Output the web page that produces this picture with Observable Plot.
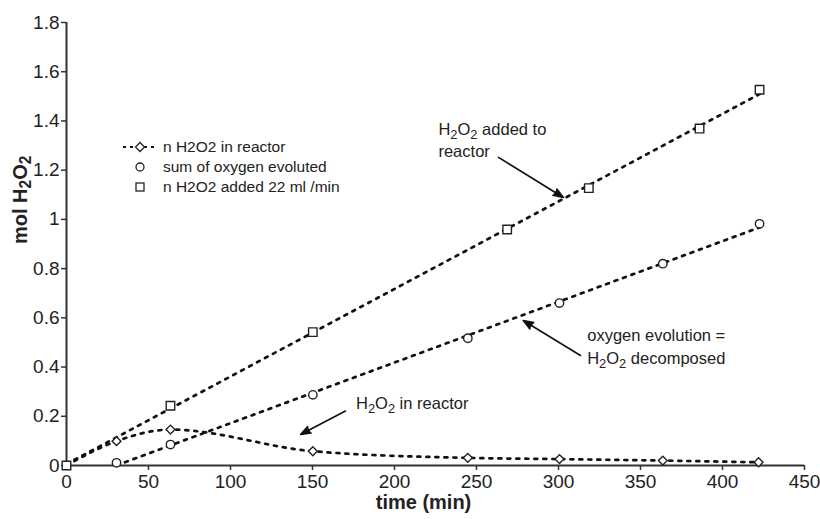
<!DOCTYPE html>
<html><head><meta charset="utf-8">
<script src="https://cdn.jsdelivr.net/npm/d3@7"></script>
<script src="https://cdn.jsdelivr.net/npm/@observablehq/plot@0.6"></script>
<style>
body{margin:0;background:#fff;font-family:"Liberation Sans",Arial,sans-serif;}
#wrap{position:relative;width:820px;height:519px;}
#legend{position:absolute;left:120px;top:137px;font-size:15.5px;color:#222;}
.row{display:flex;align-items:center;height:20px;}
.row svg{width:40px;height:20px;flex:none;}
.row span{margin-left:3px;white-space:nowrap;}
g.arrowmark path{fill:#111 !important;}
</style></head><body><div id="wrap"><div id="legend"></div></div>
<script>
// ---- data ----
const diamondTime = [0, 30.5, 63.4, 150.2, 244.7, 300.6, 363.6, 422];
const diamondMol  = [0, 0.099, 0.146, 0.058, 0.031, 0.026, 0.020, 0.013];
const circleTime  = [30.5, 63.4, 150.2, 244.7, 300.6, 363.6, 422.6];
const circleMol   = [0.011, 0.085, 0.287, 0.517, 0.660, 0.820, 0.982];
const squareTime  = [0, 63.4, 150.2, 268.7, 318.5, 386, 422.6];
const squareMol   = [0, 0.243, 0.542, 0.959, 1.127, 1.369, 1.527];
const seriesNames = ["n H2O2 in reactor", "sum of oxygen evoluted", "n H2O2 added 22 ml /min"];
const xTicks = [0, 50, 100, 150, 200, 250, 300, 350, 400, 450];
const yTicks = [0, 0.2, 0.4, 0.6, 0.8, 1, 1.2, 1.4, 1.6, 1.8];
const xLabel = "time (min)";
const yLabel = "mol H₂O₂";
// annotations (data coordinates)
const noteText = ["H₂O₂ added to\nreactor", "oxygen evolution =\nH₂O₂ decomposed", "H₂O₂ in reactor"];
const noteX = [226.8, 317.5, 176.5];
const noteY = [1.327, 0.488, 0.258];
const arrowX1 = [263.4, 313.4, 170.1];
const arrowY1 = [1.252, 0.447, 0.2215];
const arrowX2 = [303, 278.5, 142.7];
const arrowY2 = [1.089, 0.589, 0.126];

const diamonds = diamondTime.map((t, i) => ({t, m: diamondMol[i]}));
const circles  = circleTime.map((t, i) => ({t, m: circleMol[i]}));
const squares  = squareTime.map((t, i) => ({t, m: squareMol[i]}));
const notes = noteText.map((s, i) => ({s, x: noteX[i], y: noteY[i]}));
const arrows = arrowX1.map((x1, i) => ({x1, y1: arrowY1[i], x2: arrowX2[i], y2: arrowY2[i]}));

const dash = {stroke: "#111", strokeWidth: 2.7, strokeDasharray: "3 6"};
const ink = "#222";

const chart = Plot.plot({
  width: 820, height: 519,
  marginLeft: 66, marginRight: 16, marginTop: 22, marginBottom: 54,
  style: {fontFamily: '"Liberation Sans", Arial, sans-serif', color: ink, background: "white"},
  x: {domain: [0, 450]},
  y: {domain: [0, 1.8]},
  marks: [
    Plot.axisX({ticks: xTicks, tickSize: 5, tickPadding: 4, fontSize: 19, label: null, tickFormat: d => String(d), stroke: "#333", strokeWidth: 1.5}),
    Plot.axisY({ticks: yTicks, tickSize: 5, tickPadding: 2, fontSize: 19, label: null, tickFormat: d => String(+d.toFixed(1)), stroke: "#333", strokeWidth: 1.5}),
    Plot.ruleX([0], {stroke: "#333", strokeWidth: 2}),
    Plot.ruleY([0], {stroke: "#333", strokeWidth: 2}),
    Plot.linearRegressionY(squares, {x: "t", y: "m", ci: 0, ...dash}),
    Plot.linearRegressionY(circles, {x: "t", y: "m", ci: 0, ...dash}),
    Plot.line(diamonds, {x: "t", y: "m", curve: "monotone-x", ...dash}),
    Plot.dot(diamonds.filter(d => d.t > 0), {x: "t", y: "m", symbol: "diamond2", r: 4, stroke: "#222", strokeWidth: 1.4, fill: "white"}),
    Plot.dot(circles, {x: "t", y: "m", symbol: "circle", r: 4.2, stroke: "#222", strokeWidth: 1.4, fill: "white"}),
    Plot.dot(squares, {x: "t", y: "m", symbol: "square", r: 4.8, stroke: "#222", strokeWidth: 1.4, fill: "white"}),
    Plot.arrow(arrows, {x1: "x1", y1: "y1", x2: "x2", y2: "y2", stroke: "#111", strokeWidth: 1.6, headLength: 10, headAngle: 40, bend: 0, className: "arrowmark"}),
    Plot.text(notes, {x: "x", y: "y", text: "s", textAnchor: "start", fontSize: 16.5, lineHeight: 1.35, fill: ink}),
    Plot.text([xLabel], {frameAnchor: "bottom", dy: 43, dx: -12, fontSize: 20, fontWeight: "bold", fill: ink}),
    Plot.text([yLabel], {frameAnchor: "left", rotate: -90, dx: -46, fontSize: 20, fontWeight: "bold", fill: ink})
  ]
});

// filled arrowheads (fallback in case className is not applied)
chart.querySelectorAll('g[aria-label="arrow"]').forEach(g => {
  g.setAttribute("fill", "#111");
  g.querySelectorAll("path").forEach(p => { p.setAttribute("fill", "#111"); p.style.fill = "#111"; });
});

// subscripts for "₂"
function subscripts(root) {
  const ns = "http://www.w3.org/2000/svg";
  const leaves = [...root.querySelectorAll("text, tspan")].filter(n => n.childElementCount === 0 && n.textContent.includes("₂"));
  for (const n of leaves) {
    const s = n.textContent;
    n.textContent = "";
    for (const p of s.split(/(₂)/)) {
      if (!p) continue;
      const t = document.createElementNS(ns, "tspan");
      if (p === "₂") {
        t.textContent = "2";
        t.setAttribute("font-size", "0.78em");
        t.setAttribute("baseline-shift", "-0.28em");
      } else t.textContent = p;
      n.appendChild(t);
    }
  }
}
subscripts(chart);
document.getElementById("wrap").prepend(chart);

// legend
const legend = document.getElementById("legend");
const sym = [
  '<line x1="3" y1="10" x2="34" y2="10" stroke="#111" stroke-width="2.2" stroke-dasharray="3 4"/><path d="M20,5.5L24.5,10L20,14.5L15.5,10Z" fill="white" stroke="#222" stroke-width="1.3"/>',
  '<circle cx="20" cy="10" r="4" fill="white" stroke="#222" stroke-width="1.3"/>',
  '<rect x="16" y="6" width="8" height="8" fill="white" stroke="#222" stroke-width="1.3"/>'
];
seriesNames.forEach((name, i) => {
  const row = document.createElement("div");
  row.className = "row";
  row.innerHTML = `<svg viewBox="0 0 40 20">${sym[i]}</svg><span></span>`;
  row.querySelector("span").textContent = name;
  legend.appendChild(row);
});
</script>
</body></html>
